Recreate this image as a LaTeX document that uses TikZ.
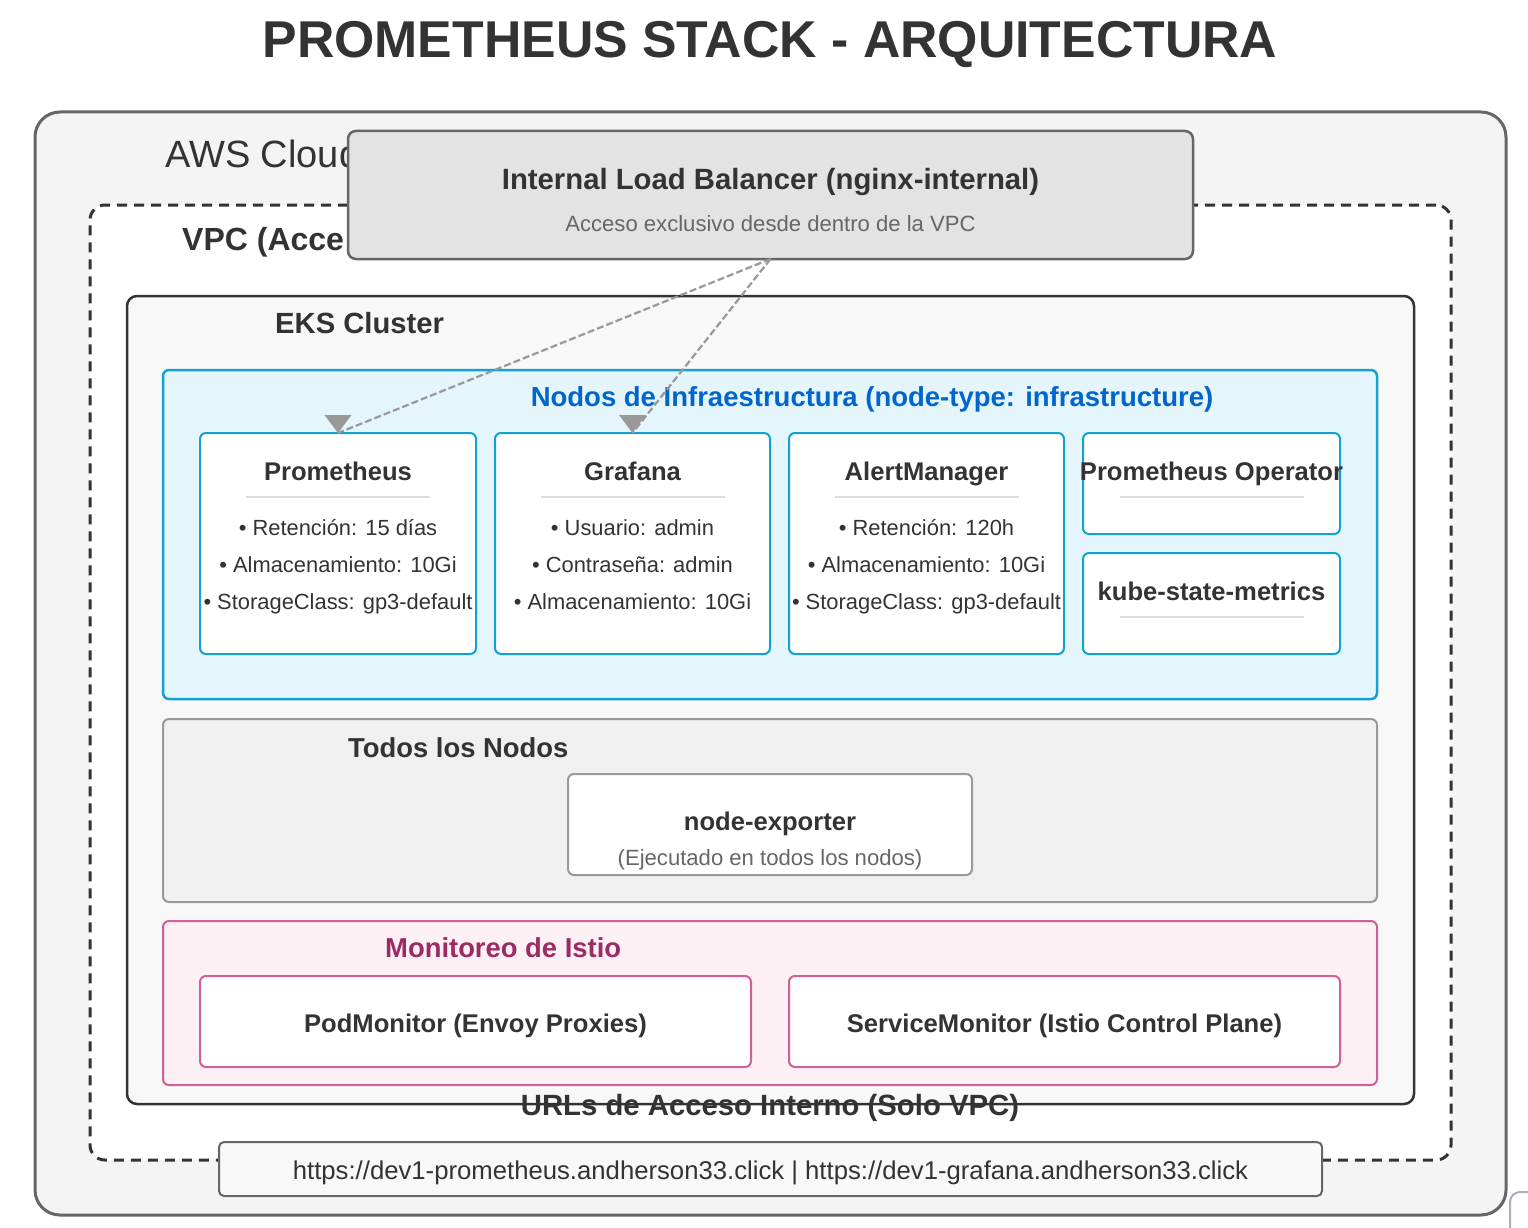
\documentclass[tikz,border=0pt]{standalone}
\usepackage{fontspec}
\setmainfont{Liberation Sans}
\definecolor{txt}{HTML}{333333}
\definecolor{awsfill}{HTML}{F4F4F4}
\definecolor{awsline}{HTML}{666666}
\definecolor{lbfill}{HTML}{E3E3E3}
\definecolor{eksfill}{HTML}{F8F8F8}
\definecolor{infrafill}{HTML}{E5F5FC}
\definecolor{infraline}{HTML}{14A0D2}
\definecolor{infratxt}{HTML}{0066CC}
\definecolor{todosfill}{HTML}{F0F0F0}
\definecolor{todosline}{HTML}{999999}
\definecolor{istiofill}{HTML}{FCF0F5}
\definecolor{istioline}{HTML}{D0609A}
\definecolor{istiotxt}{HTML}{9C2A63}
\definecolor{septxt}{HTML}{DDDDDD}
\definecolor{subtxt}{HTML}{666666}
\definecolor{conncol}{HTML}{999999}
\definecolor{cornercol}{HTML}{A8B0C0}
\newcommand{\fsz}[1]{\fontsize{#1}{#1}\selectfont}
\begin{document}
\begin{tikzpicture}[x=1pt,y=-1pt,
  box/.style={rectangle, inner sep=0pt, outer sep=0pt, anchor=north west},
  awsbox/.style={box, fill=awsfill, draw=awsline, line width=3pt, rounded corners=25pt},
  vpcbox/.style={box, fill=white, draw=txt, line width=3pt, dash pattern=on 10pt off 7pt, rounded corners=15pt},
  lbbox/.style={box, fill=lbfill, draw=awsline, line width=2.5pt, rounded corners=8pt},
  eksbox/.style={box, fill=eksfill, draw=txt, line width=2.5pt, rounded corners=10pt},
  infrabox/.style={box, fill=infrafill, draw=infraline, line width=2.5pt, rounded corners=6pt},
  cardbox/.style={box, fill=white, draw=infraline, line width=2pt, rounded corners=6pt},
  todosbox/.style={box, fill=todosfill, draw=todosline, line width=2pt, rounded corners=6pt},
  nebox/.style={box, fill=white, draw=todosline, line width=2pt, rounded corners=6pt},
  istiobox/.style={box, fill=istiofill, draw=istioline, line width=2pt, rounded corners=6pt},
  imbox/.style={box, fill=white, draw=istioline, line width=2pt, rounded corners=6pt},
  urlbox/.style={box, fill=eksfill, draw=awsline, line width=2pt, rounded corners=5pt},
  lbl/.style={inner sep=0pt, anchor=base, text=txt},
  lbll/.style={inner sep=0pt, anchor=base west, text=txt},
  cardtitle/.style={lbl, font=\bfseries\fsz{25.6}},
  bullet/.style={lbl, font=\fsz{21.9}},
  seclbl/.style={lbll, font=\bfseries\fsz{27.4}},
  sepline/.style={draw=septxt, line width=2pt},
  conn/.style={draw=conncol, line width=2.2pt, dash pattern=on 7pt off 3pt},
  tip/.style={fill=conncol}
]
\useasboundingbox (0,0) rectangle (1528,1228);

% title
\node[lbl, font=\bfseries\fsz{51.8}] (title) at (770,58) {PROMETHEUS STACK - ARQUITECTURA};

% AWS cloud
\node[awsbox, minimum width=1471pt, minimum height=1103pt] (aws) at (35,112) {};
\node[lbll, font=\fsz{38}] (awslbl) at (165,167) {AWS Cloud};

% partial corner bottom right
\draw[draw=cornercol, line width=2pt] (1510,1228) -- (1510,1202) arc[start angle=180, end angle=270, radius=10] -- (1528,1192);

% VPC
\node[vpcbox, minimum width=1361pt, minimum height=955pt] (vpc) at (90,205) {};
\node[lbll, font=\bfseries\fsz{32}] (vpclbl) at (182,250) {VPC (Acce};

% EKS
\node[eksbox, minimum width=1287pt, minimum height=808pt] (eks) at (127,296) {};
\node[lbll, font=\bfseries\fsz{29.2}] (ekslbl) at (275,333) {EKS Cluster};

% Infra
\node[infrabox, minimum width=1214pt, minimum height=329pt] (infra) at (163,370) {};
\node[lbl, font=\bfseries\fsz{27.5}, text=infratxt] (infralbl) at (872,406) {Nodos de Infraestructura (node-type: infrastructure)};

\node[cardbox, minimum width=276pt, minimum height=221pt] (prom) at (200,433) {};
\node[cardbox, minimum width=275pt, minimum height=221pt] (graf) at (495,433) {};
\node[cardbox, minimum width=275pt, minimum height=221pt] (alert) at (789,433) {};
\node[cardbox, minimum width=257pt, minimum height=101pt] (oper) at (1083,433) {};
\node[cardbox, minimum width=257pt, minimum height=101pt] (ksm) at (1083,553) {};

\node[cardtitle] (promT) at (338,480) {Prometheus};
\draw[sepline] (246,497) -- (430,497);
\node[bullet] (promB1) at (338,535) {• Retención: 15 días};
\node[bullet] (promB2) at (338,572) {• Almacenamiento: 10Gi};
\node[bullet] (promB3) at (338,609) {• StorageClass: gp3-default};

\node[cardtitle] (grafT) at (632.5,480) {Grafana};
\draw[sepline] (540.5,497) -- (724.5,497);
\node[bullet] (grafB1) at (632.5,535) {• Usuario: admin};
\node[bullet] (grafB2) at (632.5,572) {• Contraseña: admin};
\node[bullet] (grafB3) at (632.5,609) {• Almacenamiento: 10Gi};

\node[cardtitle] (alertT) at (926.5,480) {AlertManager};
\draw[sepline] (834.5,497) -- (1018.5,497);
\node[bullet] (alertB1) at (926.5,535) {• Retención: 120h};
\node[bullet] (alertB2) at (926.5,572) {• Almacenamiento: 10Gi};
\node[bullet] (alertB3) at (926.5,609) {• StorageClass: gp3-default};

\node[cardtitle] (operT) at (1211.5,480) {Prometheus Operator};
\draw[sepline] (1119.5,497) -- (1303.5,497);
\node[cardtitle] (ksmT) at (1211.5,600) {kube-state-metrics};
\draw[sepline] (1119.5,617) -- (1303.5,617);

% Todos los nodos
\node[todosbox, minimum width=1214pt, minimum height=183pt] (todos) at (163,719) {};
\node[seclbl] (todoslbl) at (348,757) {Todos los Nodos};
\node[nebox, minimum width=404pt, minimum height=101pt] (ne) at (568,774) {};
\node[cardtitle] (neT) at (770,830) {node-exporter};
\node[lbl, font=\fsz{22.1}, text=subtxt] (neS) at (770,865) {(Ejecutado en todos los nodos)};

% Istio
\node[istiobox, minimum width=1214pt, minimum height=164pt] (istio) at (163,921) {};
\node[seclbl, text=istiotxt] (istiolbl) at (385,957) {Monitoreo de Istio};
\node[imbox, minimum width=551pt, minimum height=91pt] (podmon) at (200,976) {};
\node[imbox, minimum width=551pt, minimum height=91pt] (svcmon) at (789,976) {};
\node[cardtitle] (podmonT) at (475.5,1032) {PodMonitor (Envoy Proxies)};
\node[cardtitle] (svcmonT) at (1064.5,1032) {ServiceMonitor (Istio Control Plane)};

% URLs
\node[lbl, font=\bfseries\fsz{29.3}] (urllbl) at (770,1115) {URLs de Acceso Interno (Solo VPC)};
\node[urlbox, minimum width=1103pt, minimum height=54pt] (url) at (219,1142) {};
\node[lbl, font=\fsz{25.7}] (urlT) at (770.5,1179) {https://dev1-prometheus.andherson33.click | https://dev1-grafana.andherson33.click};

% Load balancer
\node[lbbox, minimum width=845pt, minimum height=128pt] (lb) at (348,131) {};
\node[lbl, font=\bfseries\fsz{29.3}] (lbT) at (770.5,189) {Internal Load Balancer (nginx-internal)};
\node[lbl, font=\fsz{22.1}, text=subtxt] (lbS) at (770.5,231) {Acceso exclusivo desde dentro de la VPC};

% connectors
\draw[conn] (lb.south) -- (prom.north);
\draw[conn] (lb.south) -- (graf.north);
\fill[tip] (prom.north) -- ++(-13.5,-18) -- ++(27,0) -- cycle;
\fill[tip] (graf.north) -- ++(-13.5,-18) -- ++(27,0) -- cycle;
\end{tikzpicture}
\end{document}
